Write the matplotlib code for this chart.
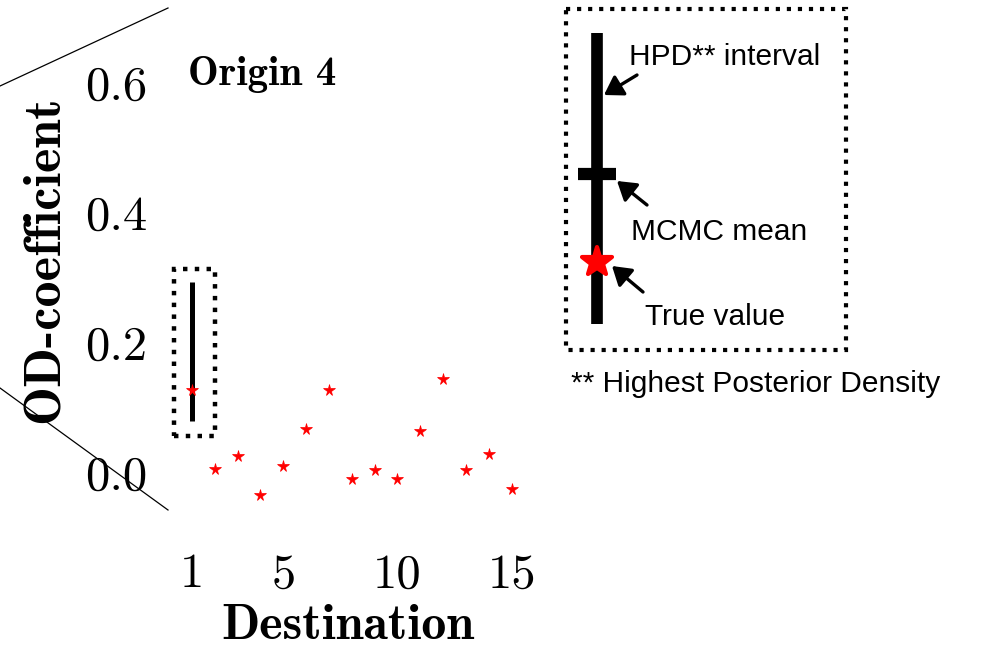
import matplotlib
matplotlib.use("Agg")
import matplotlib.pyplot as plt
from matplotlib.lines import Line2D
from matplotlib.markers import MarkerStyle
from matplotlib.patches import Rectangle, FancyArrowPatch
from matplotlib.ticker import FixedLocator, FixedFormatter

# ---- data -------------------------------------------------------------
destinations = list(range(1, 16))
true_values = [0.128, 0.006, 0.026, -0.034, 0.011, 0.068, 0.128, -0.010,
               0.005, -0.010, 0.064, 0.145, 0.004, 0.029, -0.024]
hpd_destination = 1
hpd_lower = 0.080
hpd_upper = 0.294

x_ticks = [1, 5, 10, 15]
x_tick_labels = ["1", "5", "10", "15"]
y_ticks = [0.0, 0.2, 0.4, 0.6]
y_tick_labels = ["0.0", "0.2", "0.4", "0.6"]

panel_title = "Origin 4"
x_label = "Destination"
y_label = "OD-coefficient"
key_labels = ["HPD** interval", "MCMC mean", "True value"]
key_footnote = "** Highest Posterior Density"

# ---- figure -----------------------------------------------------------
W, H = 992, 648
fig = plt.figure(figsize=(W / 100, H / 100), dpi=100)

def px(x, y):
    """figure pixel (from top-left) -> figure fraction"""
    return x / W, 1 - y / H

ax_left, ax_top, ax_right, ax_bottom = 168, 8, 534.5, 510
ax = fig.add_axes([ax_left / W, 1 - ax_bottom / H,
                   (ax_right - ax_left) / W, (ax_bottom - ax_top) / H])
ax.set_xlim(-0.05, 16.0)
ax.set_ylim(-0.057, 0.715)
for s in ax.spines.values():
    s.set_visible(False)
ax.patch.set_visible(False)

ax.xaxis.set_major_locator(FixedLocator(x_ticks))
ax.xaxis.set_major_formatter(FixedFormatter(x_tick_labels))
ax.yaxis.set_major_locator(FixedLocator(y_ticks))
ax.yaxis.set_major_formatter(FixedFormatter(y_tick_labels))
ax.tick_params(axis="both", length=0, labelsize=35)
ax.tick_params(axis="y", pad=15)
ax.tick_params(axis="x", pad=31)
for lab in ax.get_xticklabels() + ax.get_yticklabels():
    lab.set_family("cmr10")

# HPD interval for the highlighted destination
ax.plot([hpd_destination, hpd_destination], [hpd_lower, hpd_upper],
        color="black", lw=3.6, solid_capstyle="butt", zorder=2)
# dotted frame around it
ax.add_patch(Rectangle((hpd_destination - 0.79, hpd_lower - 0.023),
                       1.81, (hpd_upper - hpd_lower) + 0.042,
                       fill=False, ec="black", lw=3.2, ls=":", zorder=1))

# true values
ax.plot(destinations, true_values, ls="none", marker="*", color="red",
        markersize=8.5, markeredgewidth=0.5, zorder=3)

# labels
fig.text(*px(188, 85), panel_title, family="cmb10", fontsize=29.5,
         ha="left", va="baseline")
fig.text(*px(348, 639), x_label, family="cmb10", fontsize=36,
         ha="center", va="baseline")
fig.text(*px(45, 259), y_label, family="cmb10", fontsize=37.5,
         ha="center", va="center", rotation=90)

# zoom connector lines toward the axes corners
fig.add_artist(Line2D([0, ax_left / W], [1 - 86 / H, 1 - ax_top / H],
                      transform=fig.transFigure, color="black", lw=0.9))
fig.add_artist(Line2D([0, ax_left / W], [1 - 388 / H, 1 - ax_bottom / H],
                      transform=fig.transFigure, color="black", lw=0.9))

# ---- key (drawn in pixel space) ---------------------------------------
kx = fig.add_axes([0, 0, 1, 1])
kx.set_xlim(0, W)
kx.set_ylim(H, 0)
kx.axis("off")

kx.add_patch(Rectangle((566, 8.5), 280, 341, fill=False, ec="black",
                       lw=3.0, ls=":"))
bar_x = 597.3
kx.plot([bar_x, bar_x], [33, 324], color="black", lw=8.4,
        solid_capstyle="butt")
kx.plot([578, 616], [174, 174], color="black", lw=8.8, solid_capstyle="butt")
kx.plot([bar_x], [262], marker=MarkerStyle("*", joinstyle="round"),
        color="red", markersize=22, markeredgewidth=3,
        markeredgecolor="red", ls="none")

arrows = [((637, 75), (604, 95)),
          ((647, 205), (617, 181)),
          ((643, 292), (612, 266))]
for (x0, y0), (x1, y1) in arrows:
    kx.add_patch(FancyArrowPatch((x0, y0), (x1, y1),
                                 arrowstyle="-|>,head_length=0.55,head_width=0.35",
                                 mutation_scale=20, lw=2.4, color="black",
                                 shrinkA=0, shrinkB=0))

sans = "Liberation Sans"
key_size = 21.5
kx.text(629, 65, key_labels[0], family=sans, fontsize=key_size, va="baseline")
kx.text(631, 240, key_labels[1], family=sans, fontsize=key_size, va="baseline")
kx.text(645, 325, key_labels[2], family=sans, fontsize=key_size, va="baseline")
kx.text(571, 392, key_footnote, family=sans, fontsize=key_size, va="baseline")

fig.savefig("out.png", dpi=100)
